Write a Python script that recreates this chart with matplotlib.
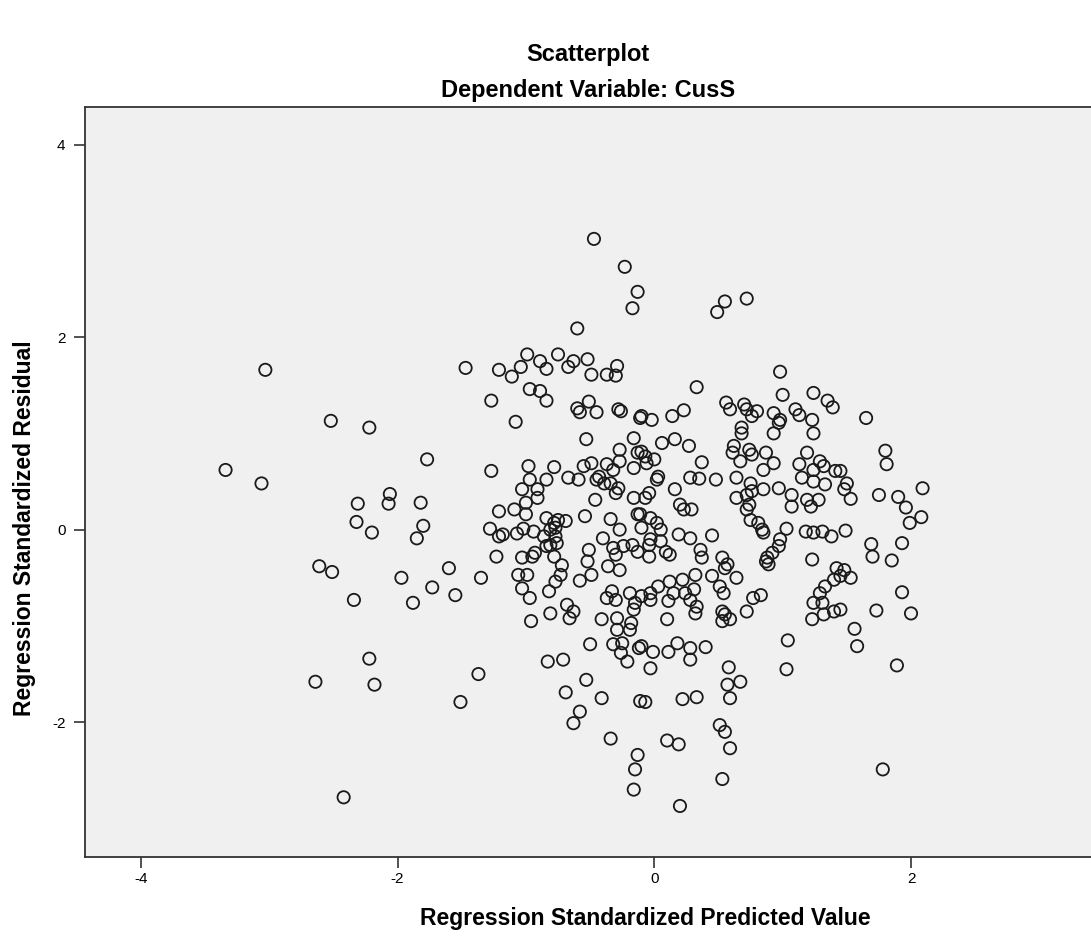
import matplotlib
matplotlib.use("Agg")
import matplotlib.pyplot as plt

plt.rcParams['font.family'] = ['Liberation Sans', 'DejaVu Sans']

title = "Scatterplot"
subtitle = "Dependent Variable: CusS"
x_label = "Regression Standardized Predicted Value"
y_label = "Regression Standardized Residual"
x_ticks = [-4, -2, 0, 2]
y_ticks = [-2, 0, 2, 4]

# Left sparse region
pred_left = [-3.34, -3.06, -3.03, -2.52, -2.22, -1.77, -2.06, -2.07, -2.31, -1.82, -2.32, -2.20,
             -1.80, -1.85, -2.61, -2.51, -1.97, -1.73, -2.34, -1.88, -2.22, -2.64, -2.18, -2.42]
resid_left = [0.62, 0.48, 1.66, 1.13, 1.06, 0.73, 0.37, 0.27, 0.27, 0.28, 0.08, -0.03,
              0.04, -0.09, -0.38, -0.44, -0.50, -0.60, -0.73, -0.76, -1.34, -1.58, -1.61, -2.78]

# Upper region
pred_upper = [-0.47, -0.23, -0.13, -0.17, -0.60, -1.47, -1.21, -1.27, -1.08, -1.11, -1.04, -0.99,
              -0.89, -0.84, -0.97, -0.89, -0.84, -0.75, -0.67, -0.63, -0.52, -0.49, -0.37, -0.29,
              -0.30, -0.60, -0.58, -0.51, -0.45, -0.28, -0.26, -0.11,
              0.55, 0.49, 0.72, 0.98, 0.33, 1.00, 1.24, 1.35, 1.39, 0.56, 0.59, 0.70, 0.72, 0.80,
              0.76, 0.93, 0.98, 0.97, 1.10, 1.13, 1.23, 0.23, 0.14, -0.02, -0.10, 0.68, 1.65]
resid_upper = [3.02, 2.73, 2.47, 2.30, 2.09, 1.68, 1.66, 1.34, 1.12, 1.59, 1.69, 1.82,
               1.75, 1.67, 1.46, 1.44, 1.34, 1.82, 1.69, 1.75, 1.77, 1.61, 1.61, 1.70,
               1.60, 1.26, 1.22, 1.33, 1.22, 1.25, 1.23, 1.16,
               2.37, 2.26, 2.40, 1.64, 1.48, 1.40, 1.42, 1.34, 1.27, 1.32, 1.25, 1.30, 1.25, 1.23,
               1.18, 1.21, 1.14, 1.11, 1.25, 1.19, 1.14, 1.24, 1.18, 1.14, 1.18, 1.06, 1.16]

# Centre-left dense region
pred_cl = [-0.53, -0.16, -1.27, -0.98, -0.78, -0.97, -0.84, -1.03, -0.91, -0.91, -1.00, -1.00,
           -1.21, -1.09, -0.67, -0.59, -0.55, -0.49, -0.45, -0.43, -0.37, -0.27, -0.27, -0.32,
           -0.34, -0.39, -0.30, -0.28, -0.13, -0.16, -0.16, -0.46, -0.54, -0.34, -0.27, -0.13,
           -1.28, -1.21, -1.18, -1.07, -1.02, -0.94, -0.84, -0.78, -0.75, -0.69, -0.77, -0.81,
           -0.77, -0.86, -0.81, -0.76, -0.84, -0.93, -0.95, -1.03, -0.78, -1.23, -1.60, -1.35,
           -1.55, -1.06, -0.99, -0.72, -0.73, -0.77, -0.82, -1.03, -0.97, -0.58, -0.49, -0.52,
           -0.51, -0.40, -0.32, -0.30, -0.36, -0.27, -0.24, -0.17, -0.13, -0.33, -0.37, -0.30,
           -0.19, -0.15, -0.16, -0.68, -0.63, -0.66, -0.81, -0.96, -0.41, -0.29, -0.18]
resid_cl = [0.94, 0.95, 0.61, 0.66, 0.65, 0.52, 0.52, 0.42, 0.42, 0.33, 0.28, 0.16,
            0.19, 0.21, 0.54, 0.52, 0.66, 0.69, 0.52, 0.55, 0.68, 0.83, 0.71, 0.62,
            0.48, 0.48, 0.38, 0.43, 0.80, 0.64, 0.33, 0.31, 0.14, 0.11, 0.00, 0.16,
            0.01, -0.07, -0.05, -0.04, 0.01, -0.02, 0.12, 0.07, 0.10, 0.09, 0.02, 0.00,
            -0.07, -0.07, -0.16, -0.14, -0.17, -0.24, -0.28, -0.29, -0.28, -0.28, -0.40, -0.50,
            -0.68, -0.47, -0.47, -0.37, -0.47, -0.54, -0.64, -0.61, -0.71, -0.53, -0.47, -0.33,
            -0.21, -0.09, -0.19, -0.26, -0.38, -0.42, -0.17, -0.16, -0.23, -0.64, -0.71, -0.73,
            -0.66, -0.76, -0.83, -0.78, -0.85, -0.92, -0.87, -0.95, -0.93, -0.92, -0.97]

# Centre-right dense region
pred_cr = [0.68, 0.93, 1.24, -0.10, 0.06, 0.16, 0.27, 0.62, 0.61, 0.67, 0.74, 0.76, 0.87, 0.93,
           0.85, 1.19, 1.13, 1.29, 1.32, 1.41, 1.24, 1.15, 1.24, 1.33, -0.07, 0.00, -0.06, 0.37,
           0.03, 0.02, 0.28, 0.35, 0.48, 0.64, 0.75, 0.85, 0.97, 1.07, 1.07, 1.19, 1.22, 1.28,
           0.16, -0.04, -0.07, 0.64, 0.72, 0.76, 0.74, 0.72, 0.20, 0.23, 0.29, -0.11, -0.03, 0.02,
           0.05, -0.10, 0.75, 0.81, 0.84, 0.85, 1.03, 1.18, 1.24, 1.31, 1.38, 0.19, 0.28, 0.45,
           0.98, 0.97, 0.92, 0.88, 0.87, 0.89, 1.23, -0.03, 0.05, -0.04, 0.36, 0.37, 0.09, 0.12,
           -0.04, 0.53, 0.57, 0.55, 0.64, 0.45, 0.32, 0.22, 0.12, 0.03, -0.03, -0.10, -0.03, 0.15,
           0.11, 0.24, 0.28, 0.31, 0.51, 0.54, 0.33, 0.32, 0.10, 0.53, 0.55, 0.59, 0.53, 0.72,
           0.77, 0.83, 1.29, 1.31, 1.24, 1.33, 1.40, 1.42, 1.23, 1.32, 1.40]
resid_cr = [1.00, 1.00, 1.00, 0.81, 0.90, 0.94, 0.87, 0.87, 0.80, 0.71, 0.83, 0.78, 0.80, 0.69,
            0.62, 0.80, 0.68, 0.71, 0.66, 0.61, 0.62, 0.54, 0.50, 0.47, 0.76, 0.73, 0.69, 0.70,
            0.55, 0.52, 0.54, 0.53, 0.52, 0.54, 0.48, 0.42, 0.43, 0.36, 0.24, 0.31, 0.24, 0.31,
            0.42, 0.38, 0.33, 0.33, 0.36, 0.40, 0.26, 0.21, 0.26, 0.21, 0.21, 0.16, 0.12, 0.07,
            0.00, 0.02, 0.10, 0.07, 0.00, -0.03, 0.01, -0.02, -0.03, -0.02, -0.07, -0.05, -0.09, -0.06,
            -0.10, -0.17, -0.24, -0.29, -0.33, -0.36, -0.31, -0.10, -0.12, -0.16, -0.21, -0.29, -0.23, -0.26,
            -0.28, -0.29, -0.36, -0.40, -0.50, -0.48, -0.47, -0.52, -0.54, -0.59, -0.66, -0.69, -0.73, -0.66,
            -0.74, -0.66, -0.73, -0.62, -0.59, -0.66, -0.80, -0.87, -0.93, -0.85, -0.88, -0.93, -0.95, -0.85,
            -0.71, -0.68, -0.66, -0.76, -0.76, -0.59, -0.52, -0.40, -0.93, -0.88, -0.85]

# Right region
pred_right = [1.80, 1.81, 2.09, 1.75, 1.90, 1.96, 2.08, 1.99, 1.45, 1.50, 1.48, 1.53, 1.49, 1.69,
              1.70, 1.93, 1.85, 1.48, 1.53, 1.45, 1.93, 1.73, 2.00, 1.45, 1.56, 1.58, 1.89, 1.78]
resid_right = [0.82, 0.68, 0.43, 0.36, 0.34, 0.23, 0.13, 0.07, 0.61, 0.48, 0.42, 0.32, -0.01, -0.15,
               -0.28, -0.14, -0.32, -0.42, -0.50, -0.48, -0.65, -0.84, -0.87, -0.83, -1.03, -1.21, -1.41, -2.49]

# Lower region
pred_low = [-1.37, -1.51, -0.83, -0.71, -0.50, -0.32, -0.25, -0.26, -0.21, -0.12, -0.29, -0.19,
            -0.53, -0.69, -0.41, -0.58, -0.63, -0.11, -0.34, -0.13, -0.15, -0.16,
            1.04, 1.03, -0.10, -0.01, 0.11, 0.18, 0.28, 0.28, 0.40, -0.03, 0.58, 0.57, 0.67, 0.59,
            -0.07, 0.22, 0.33, 0.51, 0.55, 0.59, 0.10, 0.19, 0.53, 0.20]
resid_low = [-1.50, -1.79, -1.37, -1.35, -1.19, -1.19, -1.18, -1.28, -1.37, -1.23, -1.04, -1.04,
             -1.56, -1.69, -1.75, -1.89, -2.01, -1.78, -2.17, -2.34, -2.49, -2.70,
             -1.15, -1.45, -1.21, -1.27, -1.27, -1.18, -1.23, -1.35, -1.22, -1.44, -1.43, -1.61, -1.58, -1.75,
             -1.79, -1.76, -1.74, -2.03, -2.10, -2.27, -2.19, -2.23, -2.59, -2.87]

predicted = pred_left + pred_upper + pred_cl + pred_cr + pred_right + pred_low
residual = resid_left + resid_upper + resid_cl + resid_cr + resid_right + resid_low

W, H = 1091, 948
fig = plt.figure(figsize=(W / 100, H / 100), dpi=100)
fig.patch.set_facecolor('white')
ax = fig.add_axes([85 / W, 1 - 857 / H, 1016 / W, 750 / H])
ax.set_facecolor('#F0F0F0')

ax.scatter(predicted, residual, s=78, facecolors='none', edgecolors='#1a1a1a', linewidths=1.3, zorder=3)

ax.set_xlim(-4.435, 3.48)
ax.set_ylim(-3.40, 4.39)
ax.set_xticks(x_ticks)
ax.set_yticks(y_ticks)
ax.set_xticklabels([str(t) for t in x_ticks])
ax.set_yticklabels([str(t) for t in y_ticks])
ax.tick_params(direction='out', length=8, width=1.2, color='#333333', labelsize=11, pad=3)
ax.tick_params(axis='y', pad=6)
for s in ax.spines.values():
    s.set_color('#333333')
    s.set_linewidth(1.3)

fig.text(645 / W, 1 - 918 / H, x_label, ha='center', va='center', fontsize=16.5, fontweight='bold')
fig.text(25 / W, 1 - 528 / H, y_label, ha='center', va='center', rotation=90,
         fontsize=16.5, fontweight='bold')

cx = (85 + 1091) / 2 / W
fig.text(cx, 1 - 55 / H, title, ha='center', va='center', fontsize=17, fontweight='bold')
fig.text(cx, 1 - 90 / H, subtitle, ha='center', va='center', fontsize=17, fontweight='bold')

fig.savefig('out.png', dpi=100)
